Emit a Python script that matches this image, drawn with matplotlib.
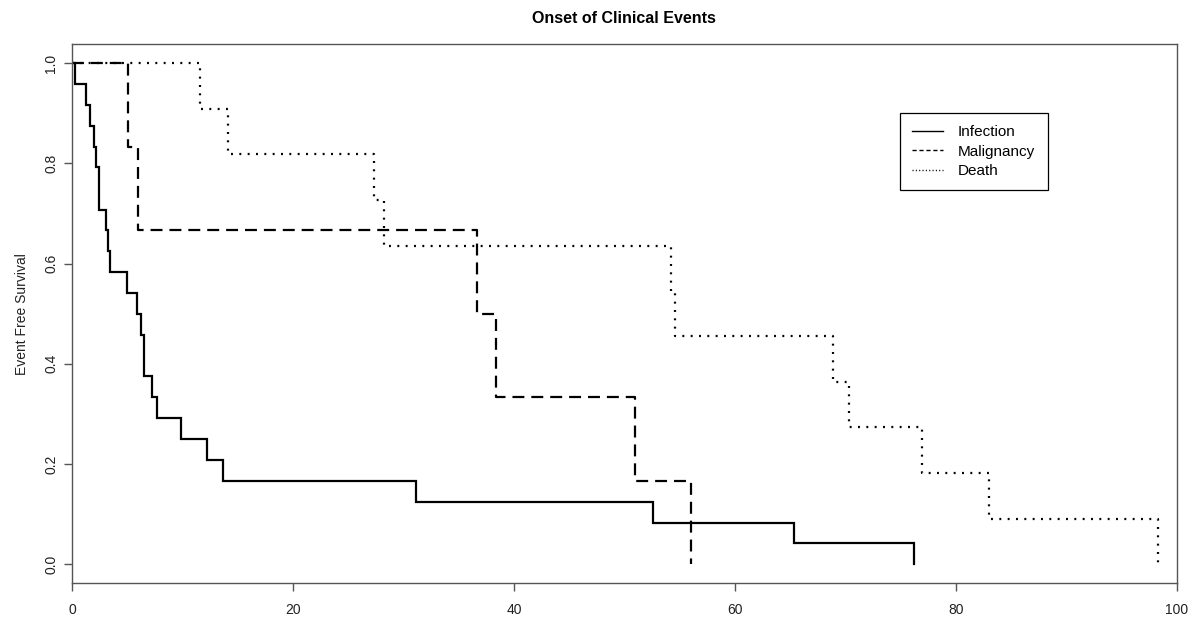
import matplotlib
matplotlib.use("Agg")
import matplotlib.pyplot as plt
from matplotlib.lines import Line2D

plt.rcParams['font.family'] = ['Liberation Sans', 'DejaVu Sans']
plt.rcParams['lines.scale_dashes'] = False

# Kaplan-Meier style event-free survival (time, survival after the event)
infection_times = [0.3, 1.3, 1.65, 1.95, 2.2, 2.45, 3.1, 3.25, 3.45, 5.0, 5.85,
                   6.25, 6.5, 7.2, 7.7, 9.9, 12.2, 13.7, 31.1, 52.6, 65.4, 76.2]
infection_surv = [0.958, 0.917, 0.875, 0.833, 0.792, 0.708, 0.667, 0.625, 0.583,
                  0.542, 0.5, 0.458, 0.375, 0.333, 0.292, 0.25, 0.208, 0.167,
                  0.125, 0.083, 0.042, 0.0]

malignancy_times = [5.1, 5.95, 36.65, 38.4, 51.0, 56.05]
malignancy_surv = [0.833, 0.667, 0.5, 0.333, 0.167, 0.0]

death_times = [11.55, 14.1, 27.35, 28.2, 54.25, 54.55, 68.85, 70.35, 76.9,
               83.05, 98.35]
death_surv = [0.909, 0.818, 0.727, 0.636, 0.545, 0.455, 0.364, 0.273, 0.182,
              0.091, 0.0]

labels = ['Infection', 'Malignancy', 'Death']
x_ticks = [0, 20, 40, 60, 80, 100]
y_ticks = [0.0, 0.2, 0.4, 0.6, 0.8, 1.0]

dash_style = (8.6, 5.0)
dot_style = (1.4, 4.6)

fig = plt.figure(figsize=(12.01, 6.23), dpi=100)
ax = fig.add_axes([72 / 1201, 1 - 583.3 / 623, (1176.7 - 72) / 1201, (583.3 - 44) / 623])

ax.plot([0] + infection_times, [1.0] + infection_surv, drawstyle='steps-post',
        color='black', lw=1.6, solid_joinstyle='miter')
ax.plot([0] + malignancy_times, [1.0] + malignancy_surv, drawstyle='steps-post',
        color='black', lw=1.6, linestyle=(0, dash_style))
ax.plot([0] + death_times, [1.0] + death_surv, drawstyle='steps-post',
        color='black', lw=1.6, linestyle=(0, dot_style))

ax.set_xlim(0, 100)
ax.set_ylim(-0.038, 1.0385)
ax.set_xticks(x_ticks)
ax.set_xticklabels([str(v) for v in x_ticks])
ax.set_yticks(y_ticks)
ax.set_yticklabels(['%.1f' % v for v in y_ticks])

for sp in ax.spines.values():
    sp.set_color('#555555')
    sp.set_linewidth(1.0)
ax.tick_params(axis='both', direction='out', length=5.5, width=1.0,
               color='#555555', labelsize=10, labelcolor='#222222')
ax.tick_params(axis='x', pad=9)
ax.tick_params(axis='y', pad=4.5)
plt.setp(ax.get_yticklabels(), rotation=90, va='center')

ax.set_ylabel('Event Free Survival', fontsize=10, color='#222222', labelpad=11)
ax.set_title('Onset of Clinical Events', fontsize=11.5, fontweight='bold', pad=15)

_handles = [
    Line2D([], [], color='black', lw=1.0, label=labels[0]),
    Line2D([], [], color='black', lw=1.0, linestyle=(0, (3.0, 2.0)), label=labels[1]),
    Line2D([], [], color='black', lw=1.0, linestyle=(0, (0.8, 1.6)), label=labels[2]),
]
_legend = fig.legend(handles=_handles, loc='upper left',
                     bbox_to_anchor=(900 / 1201, 1 - 113 / 623),
                     fontsize=11, frameon=True, fancybox=False, edgecolor='black',
                     framealpha=1, handlelength=2.0, handletextpad=1.0,
                     borderpad=0.8, labelspacing=0.35, borderaxespad=0)
_legend.get_frame().set_linewidth(0.9)

fig.savefig('out.png', dpi=100)
